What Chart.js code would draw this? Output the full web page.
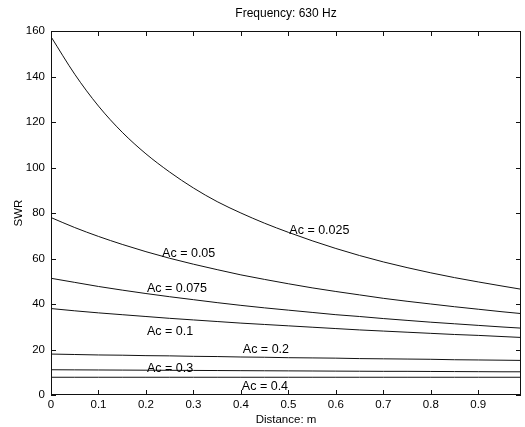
<!DOCTYPE html>
<html>
<head>
<meta charset="utf-8">
<script src="https://cdn.jsdelivr.net/npm/chart.js@4"></script>
<style>
  html, body { margin: 0; padding: 0; background: #fff; }
</style>
</head>
<body>
<canvas id="chart" width="525" height="427"></canvas>
<script>
// Data (distance in m, SWR)
const distance = [0, 0.05, 0.1, 0.15, 0.2, 0.25, 0.3, 0.35, 0.4, 0.45, 0.5,
                  0.55, 0.6, 0.65, 0.7, 0.75, 0.8, 0.85, 0.9, 0.95, 0.99];
const swrAc025 = [157.5, 141, 127, 115.5, 106, 98, 91, 85, 80, 75.5, 71.5,
                  67.8, 64.4, 61.3, 58.5, 56, 53.7, 51.6, 49.7, 47.9, 46.5];
const swrAc05  = [78, 73.6, 69.7, 66.2, 63, 60.1, 57.5, 55.1, 52.8, 50.8, 48.9,
                  47.1, 45.5, 44, 42.5, 41.2, 40, 38.8, 37.7, 36.6, 35.8];
const swrAc075 = [51.3, 49.5, 47.7, 46.1, 44.6, 43.2, 41.9, 40.6, 39.4, 38.3, 37.3,
                  36.3, 35.3, 34.5, 33.6, 32.8, 32, 31.3, 30.6, 29.9, 29.4];
const swrAc1   = [38, 37, 36.1, 35.3, 34.5, 33.7, 33, 32.3, 31.6, 31, 30.4,
                  29.8, 29.2, 28.6, 28.1, 27.6, 27.1, 26.6, 26.2, 25.7, 25.3];
const swrAc2   = [18, 17.8, 17.6, 17.5, 17.3, 17.2, 17, 16.9, 16.7, 16.6, 16.4,
                  16.3, 16.2, 16, 15.9, 15.8, 15.7, 15.5, 15.4, 15.3, 15.2];
const swrAc3   = [11.1, 11.05, 11, 10.95, 10.9, 10.85, 10.8, 10.75, 10.7, 10.65, 10.6,
                  10.55, 10.5, 10.45, 10.4, 10.4, 10.35, 10.3, 10.25, 10.2, 10.2];
const swrAc4   = [7.8, 7.8, 7.8, 7.8, 7.8, 7.8, 7.8, 7.8, 7.8, 7.8, 7.8,
                  7.8, 7.8, 7.8, 7.8, 7.8, 7.8, 7.8, 7.8, 7.8, 7.8];
const curveNames = ['Ac = 0.025', 'Ac = 0.05', 'Ac = 0.075', 'Ac = 0.1', 'Ac = 0.2', 'Ac = 0.3', 'Ac = 0.4'];
const xTicks = [0, 0.1, 0.2, 0.3, 0.4, 0.5, 0.6, 0.7, 0.8, 0.9];
const yTicks = [0, 20, 40, 60, 80, 100, 120, 140, 160];

const FONT = "'Liberation Sans', Arial, Helvetica, sans-serif";
const allSeries = [swrAc025, swrAc05, swrAc075, swrAc1, swrAc2, swrAc3, swrAc4];

// where each curve label sits, in data units (left edge of text)
const labelSpots = [[0.502, 72.5], [0.234, 62], [0.202, 47], [0.202, 28], [0.404, 19.8], [0.202, 11.8], [0.402, 3.5]];

const datasets = allSeries.map((vals, i) => ({
    label: curveNames[i],
    data: distance.map((d, j) => ({ x: d, y: vals[j] })),
    showLine: true,
    borderColor: '#111',
    borderWidth: 1,
    pointRadius: 0,
    cubicInterpolationMode: 'monotone'
}));

// frame, inward ticks, title and curve labels
const matlabLook = {
    id: 'matlabLook',
    afterDatasetsDraw(chart) {
        const { ctx, chartArea: a, scales: { x, y } } = chart;
        ctx.save();
        ctx.strokeStyle = '#111';
        ctx.lineWidth = 1;
        ctx.strokeRect(a.left + 0.5, a.top + 0.5, a.right - a.left - 1, a.bottom - a.top - 1);
        ctx.beginPath();
        xTicks.forEach(v => {
            const px = Math.round(x.getPixelForValue(v)) + 0.5;
            ctx.moveTo(px, a.bottom); ctx.lineTo(px, a.bottom - 5);
            ctx.moveTo(px, a.top); ctx.lineTo(px, a.top + 5);
        });
        yTicks.forEach(v => {
            const py = Math.round(y.getPixelForValue(v)) + 0.5;
            ctx.moveTo(a.left, py); ctx.lineTo(a.left + 5, py);
            ctx.moveTo(a.right, py); ctx.lineTo(a.right - 5, py);
        });
        ctx.stroke();

        ctx.fillStyle = '#000';
        ctx.font = '12px ' + FONT;
        ctx.textAlign = 'center';
        ctx.textBaseline = 'middle';
        ctx.fillText('Frequency: 630 Hz', (a.left + a.right) / 2, 14);

        ctx.font = '12.5px ' + FONT;
        ctx.textAlign = 'left';
        labelSpots.forEach((p, i) => {
            ctx.fillText(curveNames[i], x.getPixelForValue(p[0]), y.getPixelForValue(p[1]));
        });
        ctx.restore();
    }
};

new Chart(document.getElementById('chart'), {
    type: 'scatter',
    data: { datasets },
    plugins: [matlabLook],
    options: {
        responsive: false,
        animation: false,
        layout: { padding: { top: 31, right: 4, left: 0, bottom: 0 } },
        plugins: { legend: { display: false }, tooltip: { enabled: false } },
        scales: {
            x: {
                type: 'linear',
                min: 0,
                max: 0.99,
                afterBuildTicks: s => { s.ticks = xTicks.map(v => ({ value: v })); },
                afterFit: s => { s.height = 32; },
                grid: { display: false, drawTicks: false },
                border: { display: false },
                ticks: {
                    autoSkip: false, maxRotation: 0, padding: 3, color: '#000',
                    font: { family: FONT, size: 11.5 },
                    callback: v => String(Number(v.toFixed(1)))
                },
                title: { display: true, text: 'Distance: m', color: '#000', padding: { top: 0, bottom: 0 },
                         font: { family: FONT, size: 11.5 } }
            },
            y: {
                type: 'linear',
                min: 0,
                max: 160,
                afterBuildTicks: s => { s.ticks = yTicks.map(v => ({ value: v })); },
                afterFit: s => { s.width = 51; },
                grid: { display: false, drawTicks: false },
                border: { display: false },
                ticks: { autoSkip: false, padding: 6, color: '#000', font: { family: FONT, size: 11.5 } },
                title: { display: true, text: 'SWR', color: '#000', padding: { top: 12, bottom: 0 },
                         font: { family: FONT, size: 11.5 } }
            }
        }
    }
});
</script>
</body>
</html>
